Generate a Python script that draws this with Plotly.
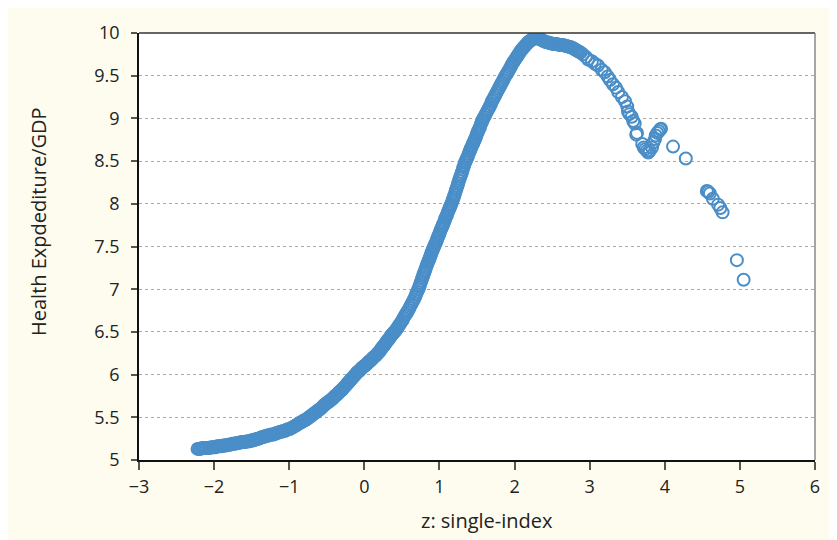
import plotly.graph_objects as go

# Dense band
z_band = [-2.22,-2.18,-2.14,-2.10,-2.06,-2.02,-1.98,-1.94,-1.90,-1.86,-1.82,-1.78,-1.74,-1.70,-1.66,-1.62,-1.58,-1.54,-1.50,-1.46,-1.42,-1.38,-1.34,-1.30,-1.26,-1.22,-1.18,-1.14,-1.10,-1.06,-1.02,-0.98,-0.94,-0.90,
          -0.87,-0.84,-0.81,-0.78,-0.75,-0.72,-0.69,-0.66,-0.63,-0.60,-0.57,-0.54,-0.51,-0.48,-0.45,-0.42,-0.39,-0.36,-0.33,-0.30,-0.27,-0.24,-0.21,-0.18,-0.15,-0.12,-0.09,-0.06,-0.03,0.00,0.03,0.06,0.09,0.12,0.15,0.18,0.21,0.24,0.27,0.30,0.33,0.36,
          0.39,0.42,0.45,0.48,0.51,0.54,0.57,0.60,0.63,0.66,0.69,0.72,
          0.74,0.76,0.78,0.80,0.82,0.84,0.86,0.88,0.90,0.92,0.94,
          0.96,0.98,1.00,1.02,1.04,1.06,1.08,1.10,1.12,1.14,1.16,
          1.18,1.20,1.22,1.24,1.26,1.28,1.30,1.32,1.34,1.36,
          1.38,1.40,1.42,1.44,1.46,1.48,1.50,1.52,1.54,1.56,1.58,
          1.61,1.64,1.67,1.70,1.73,1.76,1.79,1.82,1.85,1.88,
          1.91,1.94,1.97,2.00,2.03,2.06,2.09,2.12,2.15,2.18,2.21,2.24,2.27,2.30,2.33,
          2.36,2.40,2.44,2.48,2.52,2.56,2.60,2.64,2.68,2.72,2.76,2.80,2.84,2.88,2.91]
hx_band = [5.13,5.13,5.14,5.14,5.14,5.15,5.15,5.16,5.16,5.17,5.18,5.18,5.19,5.20,5.20,5.21,5.21,5.22,5.23,5.24,5.25,5.26,5.27,5.28,5.29,5.30,5.31,5.32,5.33,5.34,5.36,5.37,5.39,5.41,
           5.43,5.44,5.46,5.47,5.49,5.51,5.53,5.55,5.57,5.59,5.61,5.64,5.66,5.68,5.70,5.72,5.75,5.77,5.80,5.82,5.85,5.88,5.91,5.94,5.97,6.00,6.03,6.05,6.08,6.10,6.12,6.15,6.17,6.20,6.22,6.25,6.28,6.32,6.35,6.39,6.42,6.46,
           6.49,6.52,6.56,6.60,6.64,6.69,6.73,6.78,6.83,6.88,6.94,7.00,
           7.05,7.10,7.15,7.20,7.25,7.30,7.34,7.39,7.44,7.48,7.52,
           7.56,7.61,7.65,7.70,7.74,7.78,7.83,7.87,7.92,7.96,8.00,
           8.05,8.10,8.16,8.21,8.27,8.32,8.37,8.43,8.48,8.52,
           8.56,8.61,8.65,8.69,8.73,8.77,8.82,8.86,8.90,8.95,8.99,
           9.04,9.09,9.14,9.20,9.25,9.30,9.35,9.40,9.45,9.50,
           9.54,9.59,9.64,9.68,9.72,9.76,9.80,9.83,9.86,9.89,9.91,9.93,9.94,9.94,9.93,
           9.92,9.90,9.89,9.88,9.87,9.87,9.86,9.86,9.85,9.84,9.83,9.81,9.79,9.77,9.75]

# Further band observations between those above
z_band2 = [-2.20,-2.16,-2.12,-2.08,-2.04,-2.00,-1.96,-1.92,-1.88,-1.84,-1.80,-1.76,-1.72,-1.68,-1.64,-1.60,-1.56,-1.52,-1.48,-1.44,-1.40,-1.36,-1.32,-1.28,-1.24,-1.20,-1.16,-1.12,-1.08,-1.04,-1.00,-0.96,-0.92,
           -0.855,-0.825,-0.795,-0.765,-0.735,-0.705,-0.675,-0.645,-0.615,-0.585,-0.555,-0.525,-0.495,-0.465,-0.435,-0.405,-0.375,-0.345,-0.315,-0.285,-0.255,-0.225,-0.195,-0.165,-0.135,-0.105,-0.075,-0.045,-0.015,0.015,0.045,0.075,0.105,0.135,0.165,0.195,0.225,0.255,0.285,0.315,0.345,0.375,
           0.405,0.435,0.465,0.495,0.525,0.555,0.585,0.615,0.645,0.675,0.705,
           0.73,0.75,0.77,0.79,0.81,0.83,0.85,0.87,0.89,0.91,0.93,
           0.95,0.97,0.99,1.01,1.03,1.05,1.07,1.09,1.11,1.13,1.15,
           1.17,1.19,1.21,1.23,1.25,1.27,1.29,1.31,1.33,1.35,
           1.37,1.39,1.41,1.43,1.45,1.47,1.49,1.51,1.53,1.55,1.57,
           1.595,1.625,1.655,1.685,1.715,1.745,1.775,1.805,1.835,1.865,
           1.895,1.925,1.955,1.985,2.015,2.045,2.075,2.105,2.135,2.165,2.195,2.225,2.255,2.285,2.315,
           2.345,2.38,2.42,2.46,2.50,2.54,2.58,2.62,2.66,2.70,2.74,2.78,2.82,2.86]
hx_band2 = [5.13,5.14,5.14,5.14,5.15,5.15,5.16,5.16,5.17,5.17,5.18,5.19,5.19,5.20,5.21,5.21,5.22,5.22,5.23,5.24,5.25,5.27,5.28,5.29,5.30,5.30,5.32,5.33,5.34,5.35,5.36,5.38,5.40,
            5.435,5.45,5.465,5.48,5.50,5.52,5.54,5.56,5.58,5.60,5.625,5.65,5.67,5.69,5.71,5.735,5.76,5.785,5.81,5.835,5.865,5.895,5.925,5.955,5.985,6.015,6.04,6.065,6.09,6.11,6.135,6.16,6.185,6.21,6.235,6.265,6.30,6.335,6.37,6.405,6.44,6.475,
            6.505,6.54,6.58,6.62,6.665,6.71,6.755,6.805,6.855,6.91,6.97,
            7.025,7.075,7.125,7.175,7.225,7.275,7.32,7.365,7.415,7.46,7.50,
            7.54,7.585,7.63,7.675,7.72,7.76,7.805,7.85,7.895,7.94,7.98,
            8.025,8.075,8.13,8.185,8.24,8.295,8.345,8.40,8.455,8.50,
            8.54,8.585,8.63,8.67,8.71,8.75,8.795,8.84,8.88,8.925,8.97,
            9.015,9.065,9.115,9.17,9.225,9.275,9.325,9.375,9.425,9.475,
            9.52,9.565,9.615,9.66,9.70,9.74,9.78,9.815,9.845,9.875,9.90,9.92,9.935,9.94,9.935,
            9.925,9.91,9.895,9.885,9.875,9.87,9.865,9.86,9.855,9.845,9.835,9.82,9.80,9.78]

# Sparse tail points
z_tail = [2.95,2.98,3.03,3.07,3.11,3.16,3.20,3.24,3.27,3.31,3.35,3.38,3.43,3.47,3.50,3.51,3.53,3.56,3.58,3.60,3.63,3.62,3.70,3.72,3.74,3.76,3.78,3.80,3.83,3.85,3.87,3.88,3.90,3.92,3.94,3.95,4.11,4.28,4.56,4.58,4.60,4.64,4.71,4.74,4.77,4.96,5.05]
hx_tail = [9.72,9.69,9.67,9.64,9.62,9.57,9.54,9.49,9.45,9.40,9.36,9.31,9.25,9.20,9.14,9.08,9.05,9.02,8.97,8.94,8.83,8.81,8.70,8.66,8.64,8.62,8.60,8.62,8.66,8.72,8.76,8.80,8.83,8.85,8.87,8.88,8.67,8.53,8.15,8.14,8.12,8.06,7.99,7.95,7.90,7.34,7.11]

x_ticks = [-3, -2, -1, 0, 1, 2, 3, 4, 5, 6]
y_ticks = [5, 5.5, 6, 6.5, 7, 7.5, 8, 8.5, 9, 9.5, 10]
y_tick_labels = ["5", "5.5", "6", "6.5", "7", "7.5", "8", "8.5", "9", "9.5", "10"]
x_title = "z: single-index"
y_title = "Health Expdediture/GDP"

blue = "#4a8ec8"
fig = go.Figure()
fig.add_trace(go.Scatter(
    x=z_band + z_band2 + z_tail, y=hx_band + hx_band2 + hx_tail, mode="markers",
    marker=dict(symbol="circle-open", size=12, color=blue, line=dict(width=2, color=blue)),
    showlegend=False, hoverinfo="skip"))

font = "'Open Sans', sans-serif"
fig.update_layout(
    width=837, height=540,
    margin=dict(l=131, r=30, t=17, b=88),
    paper_bgcolor="#fefcee", plot_bgcolor="white",
    font=dict(family=font, color="#222", size=18),
    xaxis=dict(range=[-3, 6], tickvals=x_ticks, showgrid=False, zeroline=False,
               showline=True, linecolor="#111", linewidth=1.5,
               ticks="outside", ticklen=8, tickcolor="#555", tickwidth=1.5,
               ticklabelstandoff=2),
    yaxis=dict(range=[5, 10], tickvals=y_ticks, ticktext=y_tick_labels, showgrid=True,
               gridcolor="#aaaaaa", griddash="dot", gridwidth=1, zeroline=False,
               showline=True, linecolor="#111", linewidth=1.5,
               ticks="outside", ticklen=6, tickcolor="#555", tickwidth=1.5,
               ticklabelstandoff=8),
    annotations=[
        dict(text=x_title, xref="paper", yref="paper", x=0.5148, y=-0.1425,
             xanchor="center", yanchor="middle", showarrow=False,
             font=dict(size=20, color="#222")),
        dict(text=y_title, xref="paper", yref="paper", x=-0.1479, y=0.5575,
             xanchor="center", yanchor="middle", showarrow=False, textangle=-90,
             font=dict(size=20, color="#222")),
    ],
    shapes=[
        dict(type="line", xref="paper", yref="paper", x0=0, x1=1, y0=1, y1=1,
             line=dict(color="#333", width=1.5)),
        dict(type="line", xref="paper", yref="paper", x0=1, x1=1, y0=0, y1=1,
             line=dict(color="#888", width=1.5)),
    ],
)

fig.write_html("out.html")
